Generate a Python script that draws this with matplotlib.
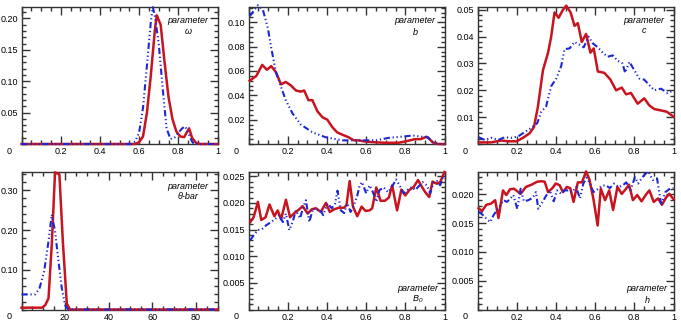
import numpy as np
import matplotlib
matplotlib.use("Agg")
import matplotlib.pyplot as plt
from matplotlib.ticker import AutoMinorLocator

plt.rcParams['font.family'] = ['Liberation Sans', 'DejaVu Sans']
plt.rcParams['mathtext.fontset'] = 'custom'
plt.rcParams['mathtext.it'] = 'Liberation Sans:italic'
plt.rcParams['mathtext.rm'] = 'Liberation Sans:italic'

RED = '#c8141e'
BLUE = '#1e28d2'

# --- parameter omega ---
w_blue_x = [0, 0.56, 0.58, 0.60, 0.62, 0.64, 0.66, 0.67, 0.68, 0.70, 0.72, 0.74, 0.76,
            0.78, 0.80, 0.82, 0.835, 0.85, 0.87, 0.88, 1.0]
w_blue_y = [0, 0, 0.004, 0.018, 0.058, 0.125, 0.195, 0.218, 0.205, 0.16, 0.09, 0.025, 0.008,
            0.01, 0.018, 0.025, 0.028, 0.018, 0.004, 0, 0]
w_red_x = [0, 0.58, 0.60, 0.62, 0.64, 0.66, 0.68, 0.69, 0.71, 0.73, 0.75, 0.77, 0.79,
           0.81, 0.83, 0.855, 0.87, 0.89, 0.91, 1.0]
w_red_y = [0, 0, 0.003, 0.012, 0.05, 0.11, 0.18, 0.205, 0.19, 0.13, 0.075, 0.04, 0.02,
           0.012, 0.011, 0.025, 0.01, 0.002, 0, 0]

# --- parameter b ---
b_blue_x = [0.006, 0.048, 0.074, 0.099, 0.116, 0.14, 0.166, 0.19, 0.225, 0.267, 0.326,
            0.394, 0.48, 0.56, 0.65, 0.714, 0.78, 0.84, 0.88, 0.916, 0.94, 0.966, 1.0]
b_blue_y = [0.105, 0.114, 0.11, 0.095, 0.079, 0.059, 0.047, 0.036, 0.025, 0.016, 0.0096,
            0.0055, 0.003, 0.003, 0.003, 0.005, 0.006, 0.007, 0.006, 0.0055, 0.0014, 0, 0]
b_red_x = [0.006, 0.04, 0.07, 0.094, 0.116, 0.14, 0.166, 0.19, 0.217, 0.242, 0.267, 0.284,
           0.306, 0.326, 0.351, 0.377, 0.402, 0.427, 0.452, 0.478, 0.511, 0.537, 0.562,
           0.596, 0.646, 0.697, 0.764, 0.798, 0.849, 0.88, 0.907, 0.924, 0.94, 0.966, 1.0]
b_red_y = [0.052, 0.056, 0.065, 0.061, 0.064, 0.059, 0.049, 0.051, 0.048, 0.044, 0.043, 0.044,
           0.036, 0.036, 0.027, 0.022, 0.02, 0.014, 0.0096, 0.0077, 0.0055, 0.003, 0.003,
           0.002, 0.0014, 0.001, 0.001, 0.002, 0.004, 0.004, 0.006, 0.004, 0.0014, 0, 0]

# --- parameter c ---
c_blue_x = [0.007, 0.037, 0.07, 0.105, 0.139, 0.173, 0.207, 0.24, 0.275, 0.305, 0.325, 0.35,
            0.376, 0.402, 0.427, 0.444, 0.47, 0.495, 0.52, 0.542, 0.566, 0.588, 0.614, 0.639,
            0.664, 0.69, 0.715, 0.74, 0.753, 0.775, 0.8, 0.825, 0.85, 0.876, 0.902, 0.936,
            0.97, 1.0]
c_blue_y = [0.0025, 0.0015, 0.0023, 0.0015, 0.0025, 0.0023, 0.0028, 0.0044, 0.006, 0.0078,
            0.012, 0.014, 0.0215, 0.0244, 0.029, 0.0353, 0.0356, 0.038, 0.037, 0.036, 0.04,
            0.0375, 0.036, 0.034, 0.0325, 0.033, 0.031, 0.03, 0.0265, 0.0306, 0.0275, 0.0244,
            0.024, 0.022, 0.02, 0.0206, 0.019, 0.02]
c_red_x = [0.007, 0.07, 0.12, 0.156, 0.2, 0.232, 0.266, 0.288, 0.308, 0.334, 0.36, 0.376,
           0.393, 0.414, 0.436, 0.453, 0.475, 0.495, 0.512, 0.532, 0.554, 0.576, 0.593,
           0.614, 0.647, 0.678, 0.707, 0.736, 0.758, 0.783, 0.817, 0.851, 0.876, 0.902,
           0.936, 0.966, 1.0]
c_red_y = [0.0006, 0.0006, 0.0013, 0.001, 0.001, 0.0023, 0.004, 0.0063, 0.0138, 0.0275,
           0.034, 0.04, 0.049, 0.047, 0.05, 0.0515, 0.049, 0.044, 0.045, 0.038, 0.041, 0.034,
           0.0356, 0.027, 0.0265, 0.024, 0.02, 0.021, 0.0185, 0.019, 0.015, 0.017, 0.0144,
           0.013, 0.0125, 0.012, 0.0102]

# --- parameter theta-bar ---
t_blue_x = [0, 3.3, 6.3, 8.3, 10.4, 12.4, 13.9, 15.4, 17.0, 18.5, 20.0, 21.5, 90]
t_blue_y = [0.038, 0.038, 0.038, 0.054, 0.096, 0.172, 0.239, 0.197, 0.121, 0.054, 0.011, 0, 0]
t_red_x = [0, 9.4, 10.9, 12.4, 13.9, 15.4, 17.4, 19.0, 20.8, 22.3, 90]
t_red_y = [0.0046, 0.0046, 0.011, 0.028, 0.164, 0.345, 0.34, 0.17, 0.015, 0, 0]

# --- parameter B0 ---
B_red_x = [0.009, 0.026, 0.048, 0.065, 0.087, 0.107, 0.132, 0.149, 0.166, 0.191, 0.212, 0.234,
           0.259, 0.276, 0.302, 0.323, 0.344, 0.369, 0.395, 0.415, 0.437, 0.462, 0.488, 0.5,
           0.516, 0.533, 0.555, 0.577, 0.597, 0.618, 0.631, 0.652, 0.674, 0.696, 0.716, 0.733,
           0.758, 0.78, 0.8, 0.82, 0.843, 0.865, 0.885, 0.902, 0.922, 0.939, 0.961, 0.978, 1.0]
B_red_y = [0.0164, 0.0173, 0.0202, 0.0168, 0.0173, 0.0197, 0.0175, 0.0186, 0.0169, 0.0206,
           0.0173, 0.0181, 0.0188, 0.0194, 0.018, 0.0188, 0.019, 0.0183, 0.02, 0.0183, 0.0188,
           0.0191, 0.0191, 0.0196, 0.0241, 0.0193, 0.0175, 0.0193, 0.0185, 0.0186, 0.019,
           0.0229, 0.0204, 0.0204, 0.021, 0.0233, 0.0186, 0.0225, 0.0214, 0.0224, 0.023,
           0.0243, 0.023, 0.022, 0.0211, 0.024, 0.0236, 0.0239, 0.0258]
B_blue_x = [0.009, 0.026, 0.048, 0.073, 0.09, 0.115, 0.14, 0.158, 0.175, 0.191, 0.208, 0.225,
            0.242, 0.263, 0.28, 0.293, 0.31, 0.33, 0.347, 0.364, 0.381, 0.403, 0.425, 0.442,
            0.454, 0.471, 0.488, 0.504, 0.521, 0.538, 0.555, 0.567, 0.58, 0.6, 0.618, 0.635,
            0.652, 0.668, 0.69, 0.712, 0.733, 0.753, 0.775, 0.792, 0.814, 0.834, 0.851, 0.868,
            0.888, 0.91, 0.927, 0.944, 0.961, 0.978, 0.995]
B_blue_y = [0.013, 0.0139, 0.0149, 0.0152, 0.0158, 0.0164, 0.0171, 0.0177, 0.0164, 0.018,
            0.0149, 0.0164, 0.0186, 0.0171, 0.0193, 0.0205, 0.0164, 0.019, 0.0186, 0.0188,
            0.0177, 0.0199, 0.019, 0.0199, 0.0223, 0.0186, 0.0181, 0.0199, 0.0183, 0.0196,
            0.0214, 0.0233, 0.0239, 0.0218, 0.0233, 0.022, 0.0202, 0.0224, 0.0229, 0.022,
            0.0231, 0.0244, 0.023, 0.0218, 0.0225, 0.023, 0.0224, 0.0231, 0.0239, 0.0233,
            0.0218, 0.0238, 0.0241, 0.0233, 0.0251]

# --- parameter h ---
h_red_x = [0.006, 0.023, 0.045, 0.069, 0.09, 0.107, 0.13, 0.147, 0.166, 0.186, 0.22, 0.247,
           0.276, 0.304, 0.326, 0.343, 0.36, 0.382, 0.399, 0.419, 0.436, 0.456, 0.473, 0.49,
           0.512, 0.533, 0.554, 0.571, 0.591, 0.613, 0.629, 0.651, 0.672, 0.692, 0.714, 0.736,
           0.756, 0.773, 0.793, 0.815, 0.837, 0.86, 0.877, 0.899, 0.921, 0.941, 0.961, 0.978, 1.0]
h_red_y = [0.0176, 0.0171, 0.0182, 0.0184, 0.019, 0.0159, 0.0207, 0.0199, 0.0209, 0.021,
           0.0201, 0.0213, 0.0217, 0.0222, 0.0223, 0.0222, 0.0204, 0.0211, 0.0219, 0.0216,
           0.0204, 0.0213, 0.0211, 0.0187, 0.0221, 0.0221, 0.024, 0.0226, 0.0193, 0.0146,
           0.021, 0.019, 0.0207, 0.0173, 0.0213, 0.0201, 0.0209, 0.0217, 0.019, 0.0199,
           0.0188, 0.02, 0.0207, 0.0187, 0.0193, 0.0182, 0.0194, 0.0201, 0.0192]
h_blue_x = [0.006, 0.028, 0.048, 0.065, 0.082, 0.099, 0.116, 0.133, 0.15, 0.166, 0.183, 0.203,
            0.22, 0.237, 0.259, 0.281, 0.298, 0.31, 0.332, 0.352, 0.369, 0.389, 0.406, 0.427,
            0.444, 0.466, 0.483, 0.503, 0.523, 0.54, 0.557, 0.574, 0.591, 0.613, 0.634, 0.655,
            0.675, 0.697, 0.719, 0.739, 0.759, 0.781, 0.803, 0.82, 0.837, 0.857, 0.873, 0.894,
            0.916, 0.938, 0.958, 0.978, 1.0]
h_blue_y = [0.017, 0.0164, 0.0157, 0.0152, 0.0164, 0.0173, 0.0181, 0.019, 0.0187, 0.0192,
            0.0199, 0.0175, 0.021, 0.0188, 0.019, 0.0194, 0.0204, 0.0175, 0.0187, 0.0199,
            0.0207, 0.0188, 0.0207, 0.0201, 0.0207, 0.0207, 0.0204, 0.0213, 0.0193, 0.0219,
            0.0229, 0.0219, 0.0204, 0.0209, 0.0215, 0.0216, 0.0211, 0.0219, 0.0213, 0.0215,
            0.0221, 0.0207, 0.023, 0.0219, 0.0228, 0.0236, 0.0239, 0.0225, 0.0228, 0.0181,
            0.0204, 0.0209, 0.0211]

panels = [
    # (blue x, blue y, red x, red y, xmax, ymax, yticks, ylabels, label, label pos)
    (w_blue_x, w_blue_y, w_red_x, w_red_y, 1.0, 0.219,
     [0.05, 0.10, 0.15, 0.20], ['0.05', '0.10', '0.15', '0.20'], 'parameter\n$\\omega$', 'top'),
    (b_blue_x, b_blue_y, b_red_x, b_red_y, 1.0, 0.113,
     [0.02, 0.04, 0.06, 0.08, 0.10], ['0.02', '0.04', '0.06', '0.08', '0.10'], 'parameter\n$b$', 'top'),
    (c_blue_x, c_blue_y, c_red_x, c_red_y, 1.0, 0.0512,
     [0.01, 0.02, 0.03, 0.04, 0.05], ['0.01', '0.02', '0.03', '0.04', '0.05'], 'parameter\n$c$', 'top'),
    (t_blue_x, t_blue_y, t_red_x, t_red_y, 90, 0.346,
     [0.10, 0.20, 0.30], ['0.10', '0.20', '0.30'], 'parameter\n\u03b8-bar', 'top'),
    (B_blue_x, B_blue_y, B_red_x, B_red_y, 1.0, 0.0258,
     [0.005, 0.010, 0.015, 0.020, 0.025], ['0.005', '0.010', '0.015', '0.020', '0.025'],
     'parameter\n$B_0$', 'bottom'),
    (h_blue_x, h_blue_y, h_red_x, h_red_y, 1.0, 0.0239,
     [0.005, 0.010, 0.015, 0.020], ['0.005', '0.010', '0.015', '0.020'], 'parameter\n$h$', 'bottom'),
]

W, H = 681, 331
fig = plt.figure(figsize=(W / 100, H / 100), dpi=100)
lefts = [21.5, 248.5, 477.5]
tops = [6.5, 172.0]
aw, ah = 196.0, 137.5

for i, (bx, by, rx, ry, xmax, ymax, yt, ytl, label, where) in enumerate(panels):
    row, col = divmod(i, 3)
    ax = fig.add_axes([lefts[col] / W, (H - tops[row] - ah) / H, aw / W, ah / H])
    ax.plot(rx, ry, color=RED, lw=1.8, clip_on=False, zorder=3)
    ax.plot(bx, by, color=BLUE, lw=1.5, linestyle=(0, (3, 1.3, 0.6, 1.3, 0.6, 1.3, 0.6, 1.3)),
            clip_on=False, zorder=4)
    ax.set_xlim(0, xmax)
    ax.set_ylim(0, ymax)
    if xmax == 90:
        ax.set_xticks([0, 20, 40, 60, 80])
        ax.set_xticklabels(['', '20', '40', '60', '80'])
    else:
        ax.set_xticks([0, 0.2, 0.4, 0.6, 0.8, 1.0])
        ax.set_xticklabels(['', '0.2', '0.4', '0.6', '0.8', '1'])
    ax.set_yticks(yt)
    ax.set_yticklabels(ytl)
    ax.xaxis.set_minor_locator(AutoMinorLocator(4))
    ax.yaxis.set_minor_locator(AutoMinorLocator(5))
    ax.tick_params(which='both', direction='in', top=True, right=True, colors='#333333',
                   labelcolor='black', labelsize=6.5, pad=2.5, width=1.0)
    ax.tick_params(which='major', length=5.8)
    ax.tick_params(which='minor', length=3.2)
    for s in ax.spines.values():
        s.set_linewidth(1.0)
        s.set_color('#333333')
    ax.annotate('0', xy=(0, 0), xycoords='axes fraction', xytext=(-12, -7),
                textcoords='offset pixels', ha='center', va='center', fontsize=6.5)
    if where == 'top':
        ax.text(0.85, 0.93, label, transform=ax.transAxes, ha='center', va='top',
                fontsize=6.5, style='italic', linespacing=1.15)
    else:
        ax.text(0.865, 0.03, label, transform=ax.transAxes, ha='center', va='bottom',
                fontsize=6.5, style='italic', linespacing=1.15)

fig.savefig('out.png', dpi=100)
